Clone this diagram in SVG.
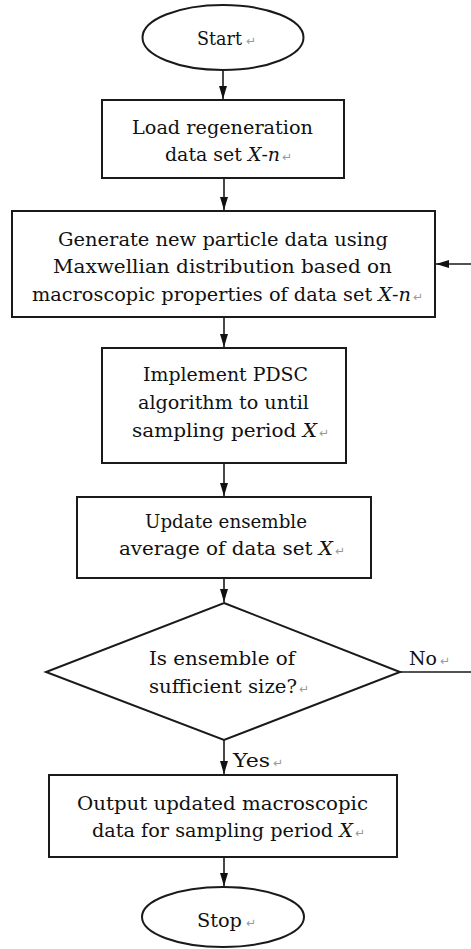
<svg xmlns="http://www.w3.org/2000/svg" width="471" height="949" viewBox="0 0 471 949">
<style>
.shape{fill:#fff;stroke:#1a1a1a;stroke-width:2}
.conn{fill:none;stroke:#1a1a1a;stroke-width:1.6}
.t{font-family:'DejaVu Serif','Liberation Serif',serif;font-size:19px;fill:#111}
.i{font-style:italic}
.pm{font-family:'DejaVu Sans',sans-serif;font-size:12px;fill:#999}
</style>
<defs>
<marker id="arr" markerUnits="userSpaceOnUse" markerWidth="14" markerHeight="10" refX="13" refY="5" orient="auto">
<path d="M0,1 L13,5 L0,9 z" fill="#111"/>
</marker>
</defs>
<rect width="471" height="949" fill="#fff"/>
<g id="connectors">
<path class="conn" d="M223,70 V99" marker-end="url(#arr)"/>
<path class="conn" d="M224,178 V210" marker-end="url(#arr)"/>
<path class="conn" d="M224,317 V347" marker-end="url(#arr)"/>
<path class="conn" d="M224,463 V496" marker-end="url(#arr)"/>
<path class="conn" d="M224,578 V602" marker-end="url(#arr)"/>
<path class="conn" d="M224,740 V774" marker-end="url(#arr)"/>
<path class="conn" d="M224,857 V886" marker-end="url(#arr)"/>
<path class="conn" d="M400,672 H480 V264 H436" marker-end="url(#arr)"/>
<text class="t" x="409" y="665" textLength="28" lengthAdjust="spacingAndGlyphs">No</text><text class="pm" x="440" y="665">↵</text>
<text class="t" x="233" y="767" textLength="37" lengthAdjust="spacingAndGlyphs">Yes</text><text class="pm" x="273" y="767">↵</text>
</g>
<g id="start">
<ellipse class="shape" cx="223" cy="37.5" rx="80.5" ry="32.5"/>
<text class="t" x="197" y="45" textLength="45" lengthAdjust="spacingAndGlyphs">Start</text><text class="pm" x="246" y="45">↵</text>
</g>
<g id="load">
<rect class="shape" x="102" y="100" width="242" height="78"/>
<text class="t" x="132" y="134" textLength="181" lengthAdjust="spacingAndGlyphs">Load regeneration</text>
<text class="t" x="165" y="161" textLength="115" lengthAdjust="spacingAndGlyphs">data set <tspan class="i">X</tspan>-<tspan class="i">n</tspan></text><text class="pm" x="282" y="161">↵</text>
</g>
<g id="generate">
<rect class="shape" x="12" y="211" width="423" height="106"/>
<text class="t" x="58" y="246" textLength="330" lengthAdjust="spacingAndGlyphs">Generate new particle data using</text>
<text class="t" x="53" y="273" textLength="339" lengthAdjust="spacingAndGlyphs">Maxwellian distribution based on</text>
<text class="t" x="32" y="301" textLength="379" lengthAdjust="spacingAndGlyphs">macroscopic properties of data set <tspan class="i">X</tspan>-<tspan class="i">n</tspan></text><text class="pm" x="413" y="301">↵</text>
</g>
<g id="implement">
<rect class="shape" x="102" y="348" width="244" height="115"/>
<text class="t" x="143" y="381" textLength="165" lengthAdjust="spacingAndGlyphs">Implement PDSC</text>
<text class="t" x="138" y="409" textLength="171" lengthAdjust="spacingAndGlyphs">algorithm to until</text>
<text class="t" x="132" y="437" textLength="185" lengthAdjust="spacingAndGlyphs">sampling period <tspan class="i">X</tspan></text><text class="pm" x="319" y="437">↵</text>
</g>
<g id="update">
<rect class="shape" x="77" y="497" width="294" height="81"/>
<text class="t" x="145" y="528" textLength="162" lengthAdjust="spacingAndGlyphs">Update ensemble</text>
<text class="t" x="119" y="555" textLength="214" lengthAdjust="spacingAndGlyphs">average of data set <tspan class="i">X</tspan></text><text class="pm" x="335" y="555">↵</text>
</g>
<g id="decision">
<polygon class="shape" points="224,603 400,672 224,740 46,672"/>
<text class="t" x="149" y="665" textLength="146" lengthAdjust="spacingAndGlyphs">Is ensemble of</text>
<text class="t" x="149" y="693" textLength="148" lengthAdjust="spacingAndGlyphs">sufficient size?</text><text class="pm" x="299" y="693">↵</text>
</g>
<g id="output">
<rect class="shape" x="49" y="775" width="348" height="82"/>
<text class="t" x="77" y="810" textLength="291" lengthAdjust="spacingAndGlyphs">Output updated macroscopic</text>
<text class="t" x="92" y="837" textLength="261" lengthAdjust="spacingAndGlyphs">data for sampling period <tspan class="i">X</tspan></text><text class="pm" x="355" y="837">↵</text>
</g>
<g id="stop">
<ellipse class="shape" cx="223" cy="917" rx="81" ry="30"/>
<text class="t" x="197" y="927" textLength="45" lengthAdjust="spacingAndGlyphs">Stop</text><text class="pm" x="246" y="927">↵</text>
</g>
</svg>
